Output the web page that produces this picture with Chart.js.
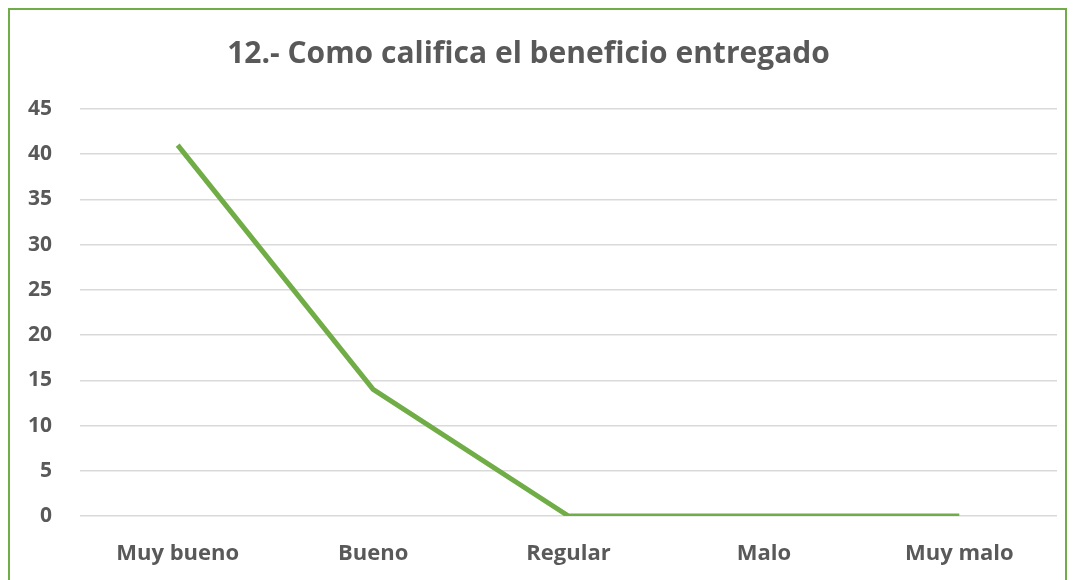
<!DOCTYPE html>
<html>
<head>
<meta charset="utf-8">
<script src="https://cdn.jsdelivr.net/npm/chart.js@4"></script>
<style>
  html, body { margin: 0; padding: 0; background: #fff; overflow: hidden; }
  #frame {
    position: absolute; left: 8px; top: 8px; width: 1059px; height: 600px;
    border: 2px solid #70ad47; border-bottom: none; box-sizing: border-box;
  }
  #wrap { position: absolute; left: 0; top: 0; width: 1075px; height: 580px; }
</style>
</head>
<body>
<div id="frame"></div>
<div id="wrap"><canvas id="chart"></canvas></div>
<script>
const categories = ['Muy bueno', 'Bueno', 'Regular', 'Malo', 'Muy malo'];
const values = [41, 14, 0, 0, 0];
const yTicks = [0, 5, 10, 15, 20, 25, 30, 35, 40, 45];

const grey = '#595959';
const fontFam = '"Open Sans", "Liberation Sans", sans-serif';

new Chart(document.getElementById('chart'), {
  type: 'line',
  data: {
    labels: categories,
    datasets: [{
      data: values,
      borderColor: '#70ad47',
      borderWidth: 5,
      pointRadius: 0,
      tension: 0,
      fill: false
    }]
  },
  options: {
    responsive: true,
    maintainAspectRatio: false,
    animation: false,
    layout: { padding: { left: 0, right: 18, top: 36, bottom: 0 } },
    plugins: {
      legend: { display: false },
      tooltip: { enabled: false },
      title: {
        display: true,
        text: '12.- Como califica el beneficio entregado',
        color: grey,
        font: { family: fontFam, size: 30, weight: 'bold' },
        padding: { top: 0, bottom: 37 }
      }
    },
    scales: {
      x: {
        offset: true,
        afterFit: (axis) => { axis.height = 64; },
        grid: { display: false },
        border: { display: false },
        ticks: { color: grey, font: { family: fontFam, size: 22, weight: 'bold' }, padding: 17 }
      },
      y: {
        min: 0,
        max: 45,
        afterBuildTicks: (axis) => { axis.ticks = yTicks.map(v => ({ value: v })); },
        afterFit: (axis) => { axis.width = 80; },
        grid: { color: '#d9d9d9', lineWidth: 1.5, drawTicks: false },
        border: { display: false },
        ticks: { color: grey, font: { family: fontFam, size: 21, weight: 'bold' }, padding: 28 }
      }
    }
  }
});
</script>
</body>
</html>
